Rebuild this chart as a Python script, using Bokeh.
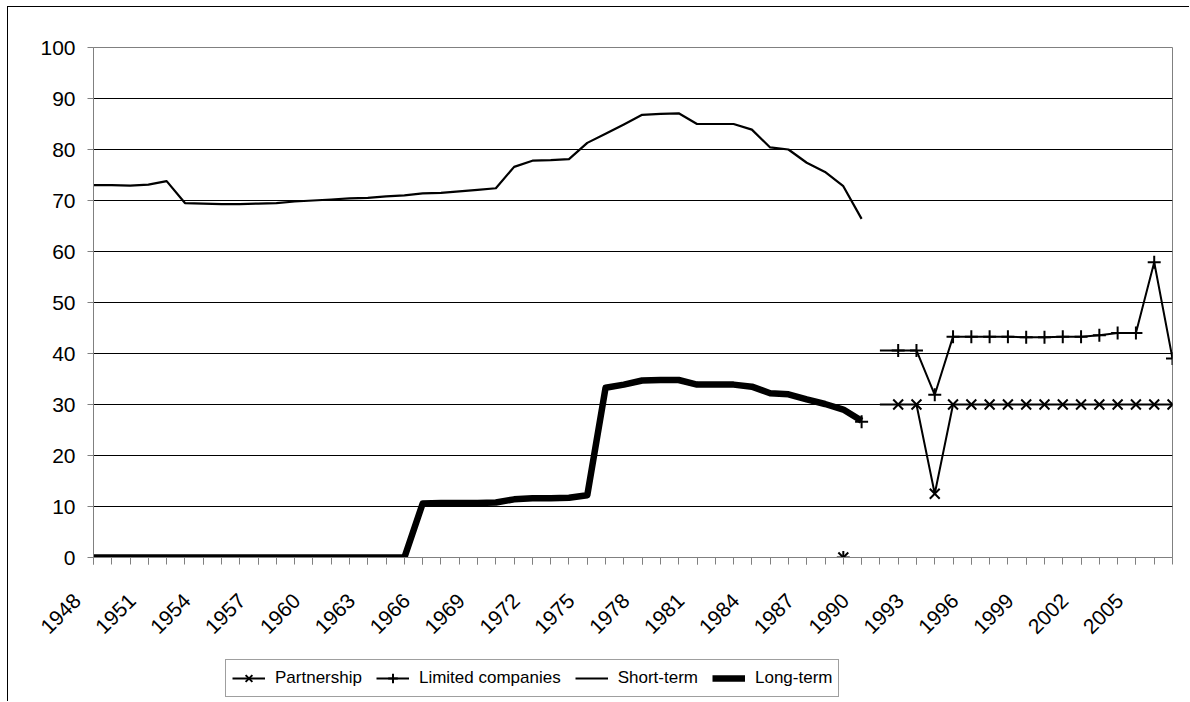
from math import pi
from bokeh.plotting import figure
from bokeh.layouts import column
from bokeh.models import FixedTicker, Legend, LegendItem, Range1d
from bokeh.embed import file_html
from bokeh.resources import INLINE

# ---- data ----
all_years = list(range(1948, 2008))
label_years = list(range(1948, 2008, 3))

st_years = list(range(1948, 1991))
short_term = [73.0, 73.0, 72.9, 73.1, 73.8,
              69.5, 69.4, 69.3, 69.3, 69.4, 69.5, 69.8, 70.0, 70.2, 70.4,
              70.5, 70.8, 71.0, 71.4, 71.5, 71.8, 72.1, 72.4,
              76.6, 77.8, 77.9, 78.1, 81.3, 83.1, 84.9, 86.8, 87.0, 87.1,
              85.0, 85.0, 85.0, 83.9, 80.4, 80.0, 77.4, 75.6, 72.8, 66.4]
long_term = [0.0] * 18 + [10.6, 10.7, 10.7, 10.7, 10.8, 11.4, 11.6, 11.6, 11.7, 12.2,
                          33.3, 33.9, 34.7, 34.8, 34.8, 33.9, 33.9, 33.9, 33.5, 32.2,
                          32.0, 31.0, 30.1, 29.0, 26.8]

new_years = list(range(1991, 2008))
partnership = [30.0, 30.0, 30.0, 12.5, 30.0, 30.0, 30.0, 30.0, 30.0, 30.0,
               30.0, 30.0, 30.0, 30.0, 30.0, 30.0, 30.0]
limited = [40.6, 40.6, 40.6, 31.9, 43.3, 43.3, 43.3, 43.3, 43.2, 43.2,
           43.3, 43.3, 43.6, 44.0, 44.0, 57.9, 39.0]

# isolated observations
iso_years_p = [1989]
iso_p = [0.0]
iso_years_l = [1989, 1990]
iso_l = [0.0, 26.6]

FONT = "Liberation Sans"
NBSP = "\u00a0"

p = figure(width=1181, height=643, output_backend="svg", toolbar_location=None,
           x_range=Range1d(1948, 2007), y_range=Range1d(0, 100),
           min_border_left=85, min_border_right=17, min_border_top=40,
           min_border_bottom=93)

p.background_fill_color = "white"
p.border_fill_color = "white"
p.outline_line_color = "#808080"
p.outline_line_width = 1

p.xgrid.grid_line_color = None
p.ygrid.ticker = FixedTicker(ticks=list(range(0, 101, 10)))
p.ygrid.grid_line_color = "black"
p.ygrid.grid_line_width = 1

p.yaxis.ticker = FixedTicker(ticks=list(range(0, 101, 10)))
p.yaxis.axis_line_color = "#808080"
p.yaxis.major_tick_line_color = "#808080"
p.yaxis.major_tick_out = 6
p.yaxis.major_tick_in = 0
p.yaxis.minor_tick_line_color = None
p.yaxis.major_label_text_font = FONT
p.yaxis.major_label_text_font_size = "21px"
p.yaxis.major_label_text_color = "black"
p.yaxis.major_label_standoff = 12

p.xaxis.ticker = FixedTicker(ticks=label_years, minor_ticks=all_years)
p.xaxis.major_label_overrides = {y: str(y) + NBSP * 4 for y in label_years}
p.xaxis.axis_line_color = "#808080"
p.xaxis.major_tick_line_color = "#808080"
p.xaxis.minor_tick_line_color = "#808080"
p.xaxis.major_tick_out = 7
p.xaxis.major_tick_in = 0
p.xaxis.minor_tick_out = 7
p.xaxis.minor_tick_in = 0
p.xaxis.major_label_orientation = pi / 4
p.xaxis.major_label_text_font = FONT
p.xaxis.major_label_text_font_size = "21px"
p.xaxis.major_label_text_color = "black"
p.xaxis.major_label_standoff = 16

p.line(st_years, long_term, line_width=6.5, color="black", line_join="round")
p.line(st_years, short_term, line_width=2.2, color="black", line_join="round")
p.line(new_years, partnership, line_width=2, color="black", line_join="round")
p.scatter(new_years[1:] + iso_years_p, partnership[1:] + iso_p, marker="x",
          size=14, line_width=2, color="black")
p.line(new_years, limited, line_width=2, color="black", line_join="round")
p.scatter(new_years[1:] + iso_years_l, limited[1:] + iso_l, marker="cross",
          size=13, line_width=2, color="black")

# ---- legend strip below the chart (same series, outside its visible range) ----
q = figure(width=1181, height=51, output_backend="svg", toolbar_location=None,
           x_range=Range1d(0, 1), y_range=Range1d(0, 1),
           x_axis_type=None, y_axis_type=None,
           min_border_left=0, min_border_right=0, min_border_top=0,
           min_border_bottom=0)
q.outline_line_color = None
q.grid.grid_line_color = None
q.background_fill_color = "white"
q.border_fill_color = "white"

g_pl = q.line(new_years, partnership, line_width=2, color="black")
g_pm = q.scatter(new_years, partnership, marker="x", size=11, line_width=2, color="black")
g_ll = q.line(new_years, limited, line_width=2, color="black")
g_lm = q.scatter(new_years, limited, marker="cross", size=12, line_width=2, color="black")
g_st = q.line(st_years, short_term, line_width=2.2, color="black")
g_lt = q.line(st_years, long_term, line_width=6.5, color="black")

legend = Legend(items=[
    LegendItem(label="Partnership", renderers=[g_pl, g_pm]),
    LegendItem(label="Limited companies", renderers=[g_ll, g_lm]),
    LegendItem(label="Short-term", renderers=[g_st]),
    LegendItem(label="Long-term", renderers=[g_lt]),
], orientation="horizontal", location=(132, 4))
legend.border_line_color = "#404040"
legend.border_line_width = 1
legend.background_fill_color = "white"
legend.background_fill_alpha = 1
legend.label_text_font = FONT
legend.label_text_font_size = "17px"
legend.label_text_color = "black"
legend.glyph_width = 33
legend.glyph_height = 24
legend.label_standoff = 10
legend.spacing = 14
legend.padding = 6
legend.margin = 0
q.add_layout(legend)

layout = column(p, q, spacing=0)
layout.styles = {"border-left": "1px solid black", "border-top": "1px solid black",
                 "margin-left": "7px", "margin-top": "6px"}

open("out.html", "w").write(file_html(layout, INLINE))
